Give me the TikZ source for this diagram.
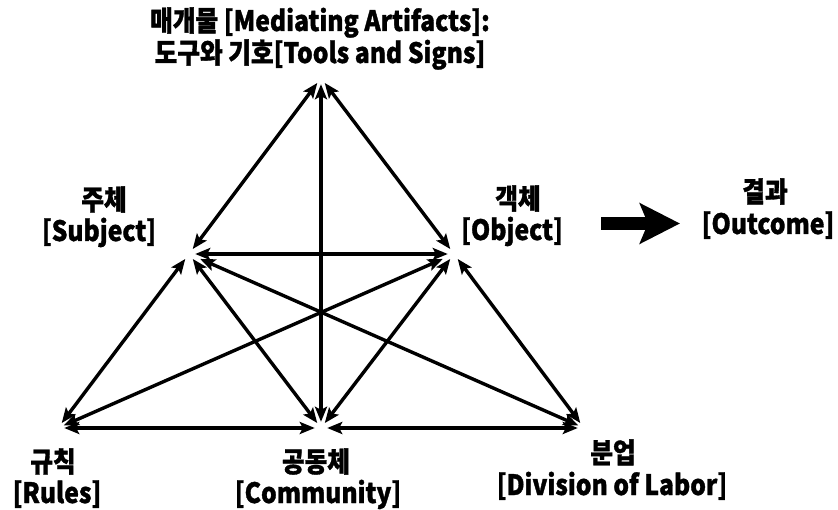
\documentclass[tikz,border=0pt]{standalone}
\usepackage{fontspec}
\setmainfont{Noto Sans CJK KR}[FakeStretch=0.88,BoldFeatures={FakeBold=1.2}]
\usetikzlibrary{arrows.meta}
\begin{document}
\begin{tikzpicture}[x=1pt,y=-1pt,
  pt/.style={circle,minimum size=12pt,inner sep=0pt},
  link/.style={line width=3.4pt,{Stealth[length=15pt,width=12pt,inset=3pt]}-{Stealth[length=15pt,width=12pt,inset=3pt]}},
  lbl/.style={anchor=base,inner sep=0pt,font=\fontsize{28}{32}\selectfont\bfseries},
  bigarrow/.style={line width=13pt,-{Stealth[length=40pt,width=40pt,inset=8pt]}}]
\useasboundingbox (0,0) rectangle (838,510);

% corners and side midpoints of the activity triangle
\node[pt] (T) at (321,78) {};
\node[pt] (S) at (189,254) {};
\node[pt] (O) at (454,254) {};
\node[pt] (R) at (58,428) {};
\node[pt] (C) at (321,428) {};
\node[pt] (D) at (584,428) {};

% labels
\node[lbl] (tK) at (320,31) {매개물 [Mediating Artifacts]:};
\node[lbl] (tE) at (320,63) {도구와 기호[Tools and Signs]};
\node[lbl] (sK) at (104,210) {주체};
\node[lbl] (sE) at (99,241) {[Subject]};
\node[lbl] (oK) at (518,209) {객체};
\node[lbl] (oE) at (512,240) {[Object]};
\node[lbl] (uK) at (765,202) {결과};
\node[lbl] (uE) at (768,234) {[Outcome]};
\node[lbl] (rK) at (53,472) {규칙};
\node[lbl] (rE) at (57,503) {[Rules]};
\node[lbl] (cK) at (316,472) {공동체};
\node[lbl] (cE) at (318,503) {[Community]};
\node[lbl] (dK) at (613,463) {분업};
\node[lbl] (dE) at (612,495) {[Division of Labor]};

% connections
\draw[link] (T) -- (S);
\draw[link] (T) -- (O);
\draw[link] (T) -- (C);
\draw[link] (S) -- (O);
\draw[link] (S) -- (R);
\draw[link] (S) -- (C);
\draw[link,shorten <=6pt] (S) -- (D);
\draw[link,shorten <=6pt] (O) -- (R);
\draw[link] (O) -- (C);
\draw[link] (O) -- (D);
\draw[link] (R) -- (C);
\draw[link] (C) -- (D);

% outcome arrow
\coordinate (bs) at (601,223.5);
\coordinate (bt) at (680,223.5);
\draw[bigarrow] (bs) -- (bt);
\end{tikzpicture}
\end{document}
